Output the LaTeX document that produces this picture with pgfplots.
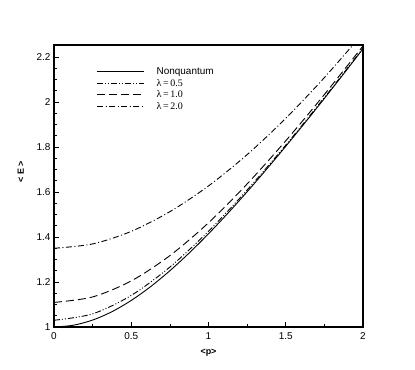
\documentclass[border=0pt]{standalone}
\usepackage{fontspec}
\setmainfont{Liberation Sans}
\newfontfamily\serif{Liberation Serif}
\usepackage{pgfplots}
\pgfplotsset{compat=1.18}
\begin{document}
\begin{tikzpicture}
\begin{axis}[
  scale only axis, width=309bp, height=282bp,
  at={(0,0)}, anchor=south west,
  xmin=0, xmax=2, ymin=1, ymax=2.253,
  xtick={0,0.5,1,1.5,2}, ytick={1,1.2,1.4,1.6,1.8,2,2.2},
  minor x tick num=1, minor y tick num=3,
  tick pos=left, tick align=inside,
  major tick length=5bp, minor tick length=3bp,
  axis line style={line width=1.1pt},
  tick style={line width=0.6pt, black},
  tick label style={font=\fontsize{10}{12}\selectfont},
  xticklabel style={yshift=-2bp},
  /pgf/number format/assume math mode=true,
  xlabel={<p>}, ylabel={< E >},
  label style={font=\bfseries\fontsize{9}{10}\selectfont},
  xlabel style={yshift=-3bp},
  ylabel style={yshift=6bp, at={(ticklabel cs:0.55)}},
  legend style={at={(rel axis cs:0.128,0.93)}, anchor=north west, draw=none, fill=none,
    font=\fontsize{10}{12}\selectfont, row sep=1.5bp, column sep=12bp,
    nodes={inner sep=0pt, text height=8bp, text depth=2bp}},
  legend cell align=left,
  legend image code/.code={\draw[#1] (0bp,0bp) -- (47bp,0bp);},
  every axis plot/.append style={black, line width=0.9pt, smooth, no marks},
]
\addplot[solid] coordinates {(0,1) (0.125,1.0078) (0.25,1.0308) (0.375,1.0680) (0.5,1.1180) (0.625,1.1792) (0.75,1.25) (0.875,1.3288) (1,1.4142) (1.125,1.5052) (1.25,1.6008) (1.375,1.7002) (1.5,1.8028) (1.625,1.9081) (1.75,2.0156) (1.875,2.1250) (2,2.2361)};
\addlegendentry{Nonquantum}
\addplot[dash pattern=on 6bp off 2bp on 1bp off 2bp on 1bp off 2bp] coordinates {(0,1.0299) (0.25,1.0584) (0.5,1.1403) (0.75,1.2663) (1,1.4256) (1.25,1.6087) (1.5,1.8083) (1.75,2.0195) (2,2.2390)};
\addlegendentry{{\serif λ\,=\,0.5}}
\addplot[dash pattern=on 8bp off 4bp] coordinates {(0,1.1092) (0.25,1.1336) (0.5,1.2048) (0.75,1.3171) (1,1.4631) (1.25,1.6356) (1.5,1.8273) (1.75,2.0330) (2,2.2488)};
\addlegendentry{{\serif λ\,=\,1.0}}
\addplot[dash pattern=on 6bp off 2.5bp on 1bp off 2.5bp] coordinates {(0,1.3498) (0.25,1.3691) (0.5,1.4250) (0.75,1.5124) (1,1.6268) (1.25,1.7658) (1.5,1.9271) (1.75,2.1082) (2,2.3051)};
\addlegendentry{{\serif λ\,=\,2.0}}
\end{axis}
\path[use as bounding box] (-54bp,-43bp) rectangle (361bp,327bp);
\end{tikzpicture}
\end{document}
